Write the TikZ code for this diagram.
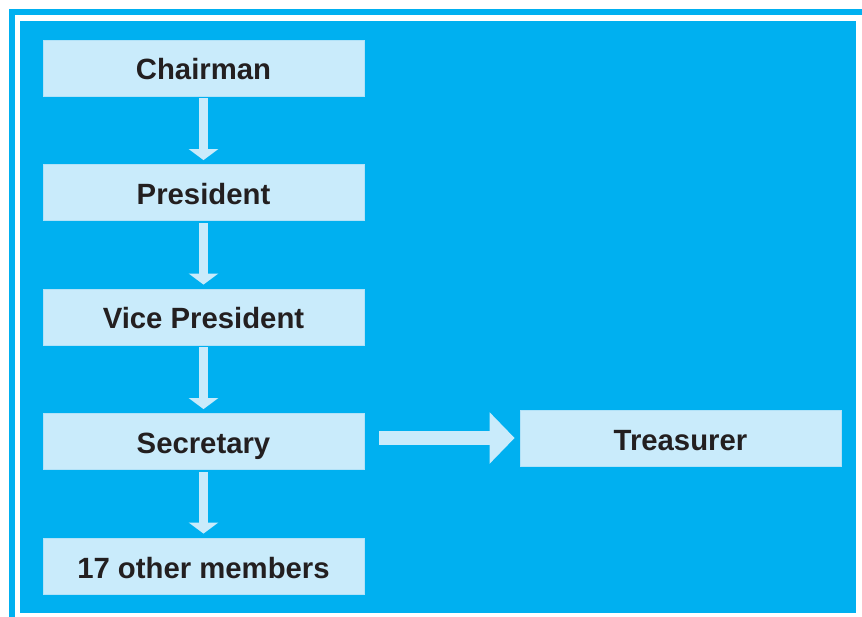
\documentclass[tikz,border=0pt]{standalone}
\usepackage{fontspec}
\setmainfont{Liberation Sans}
\usetikzlibrary{arrows.meta}
\definecolor{panelblue}{HTML}{00B0F0}
\definecolor{boxfill}{HTML}{C9EBFB}
\definecolor{boxedge}{HTML}{B2E2F8}
\definecolor{labelink}{HTML}{231F20}
\begin{document}
\begin{tikzpicture}[x=1pt,y=-1pt,
  rolebox/.style={draw=boxedge, line width=0.8pt, fill=boxfill,
    minimum width=321pt, minimum height=56pt, inner sep=0pt,
    text height=24pt, text depth=0pt,
    text=labelink, font=\fontsize{29.3}{31}\selectfont\bfseries},
  downlink/.style={draw=boxfill, line width=9pt,
    -{Triangle[width=29pt,length=11pt]}, shorten <=2pt, shorten >=4pt},
  sidelink/.style={draw=boxfill, line width=14pt,
    -{Triangle[width=50pt,length=25pt]}, shorten <=15pt, shorten >=5pt}]
  \useasboundingbox (0,0) rectangle (862,617);
  \fill[white] (0,0) rectangle (862,617);
  % outer frame and panel
  \begin{scope}
    \clip (0,0) rectangle (862,617);
    \draw[panelblue, line width=6pt] (12,12) rectangle (864.5,623);
  \end{scope}
  \fill[panelblue] (20,21) rectangle (856,613);
  % roles
  \node[rolebox] (chair) at (203.5,68)  {Chairman};
  \node[rolebox] (pres)  at (203.5,192.5) {President};
  \node[rolebox] (vice)  at (203.5,317) {Vice President};
  \node[rolebox] (sec)   at (203.5,441.5) {Secretary};
  \node[rolebox] (others) at (203.5,566) {17 other members};
  \node[rolebox] (tres)  at (680.5,438) {Treasurer};
  % connectors
  \draw[downlink] (chair.south) -- (pres.north);
  \draw[downlink] (pres.south) -- (vice.north);
  \draw[downlink] (vice.south) -- (sec.north);
  \draw[downlink] (sec.south) -- (others.north);
  \draw[sidelink] (sec.east |- tres.west) -- (tres.west);
\end{tikzpicture}
\end{document}
